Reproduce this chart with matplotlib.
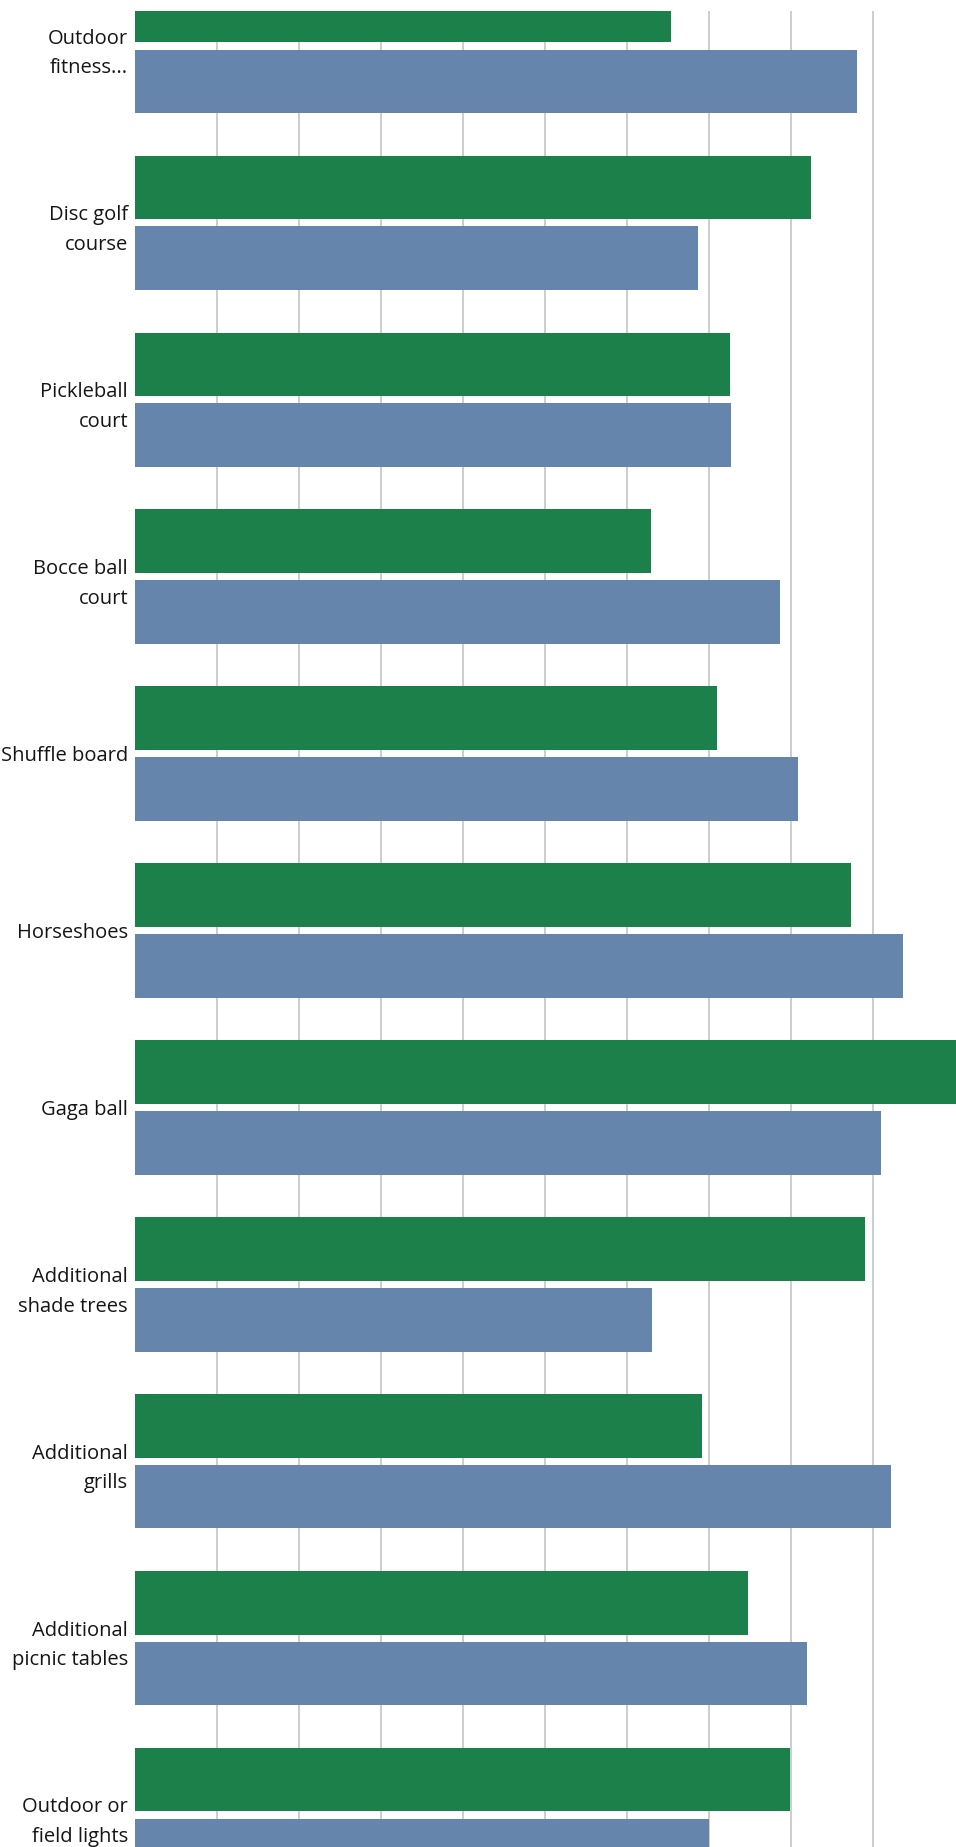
import numpy as np
import matplotlib
matplotlib.use("Agg")
import matplotlib.pyplot as plt

# categories, top to bottom
categories = ["Outdoor\nfitness...", "Disc golf\ncourse", "Pickleball\ncourt",
              "Bocce ball\ncourt", "Shuffle board", "Horseshoes", "Gaga ball",
              "Additional\nshade trees", "Additional\ngrills",
              "Additional\npicnic tables", "Outdoor or\nfield lights"]

# bar lengths (gridline step = 10)
green_vals = [65.4, 82.4, 72.5, 62.9, 71.0, 87.3, 104.0, 89.0, 69.1, 74.7, 79.9]
blue_vals = [88.1, 68.7, 72.7, 78.6, 80.8, 93.6, 91.0, 63.0, 92.2, 82.0, 70.0]

grid_ticks = [10, 20, 30, 40, 50, 60, 70, 80, 90]

green = "#1b8049"
blue = "#6585ad"

W, H = 956, 1847
fig = plt.figure(figsize=(W / 100, H / 100), dpi=100)
ax = fig.add_axes([135 / W, 0, (W - 135) / W, 1 - 11 / H])

y = np.arange(len(categories))
ax.barh(y - 0.2, green_vals, height=0.36, color=green, zorder=2)
ax.barh(y + 0.2, blue_vals, height=0.36, color=blue, zorder=2)

ax.set_xlim(0, (W - 135) / 8.2)
ax.set_ylim((H - 46) / 176.9, (11 - 46) / 176.9)

ax.set_xticks(grid_ticks)
ax.set_xticklabels([])
ax.grid(axis="x", color="#c9c9c9", linewidth=1.3, zorder=0)
ax.set_axisbelow(True)

ax.set_yticks(y)
ax.set_yticklabels(categories, fontsize=14.5, family="Open Sans",
                   color="#151515", linespacing=1.65)
ax.tick_params(axis="both", length=0, pad=5)

for s in ax.spines.values():
    s.set_visible(False)

fig.savefig("out.png", dpi=100, facecolor="white")
